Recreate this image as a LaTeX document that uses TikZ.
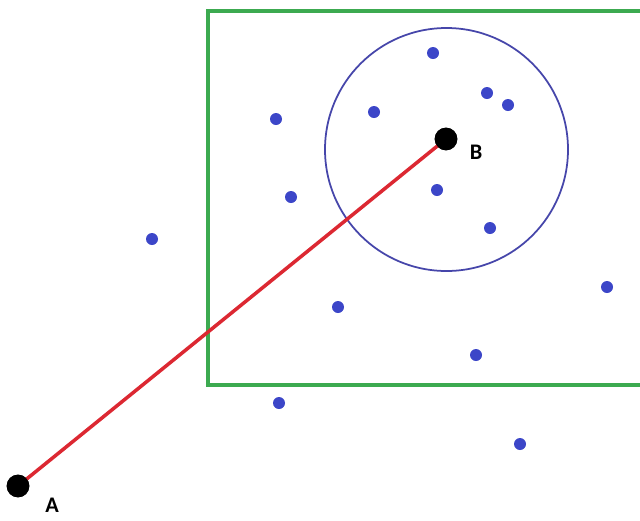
\documentclass[tikz,border=0pt]{standalone}
\usepackage{fontspec}
\setmainfont{Carlito}
\usepackage{tikz}

\begin{document}
\begin{tikzpicture}[x=0.03cm, y=-0.03cm]
    \useasboundingbox (0,0) rectangle (640,520);

    \definecolor{boxgreen}{RGB}{60,170,80}
    \definecolor{dotblue}{RGB}{60,70,200}
    \definecolor{ringblue}{RGB}{70,70,170}
    \definecolor{linered}{RGB}{220,40,50}

    
    \draw[boxgreen, line width=3.2pt] (660, 11) -- (208, 11) -- (208, 385) -- (660, 385);

    
    \draw[ringblue, line width=1.5pt] (446.5, 149.5) circle (121.5*0.03cm);

    
    \node[circle, fill=black, inner sep=0pt, minimum size=0.68cm] (A) at (18, 486) {};
    \node[circle, fill=black, inner sep=0pt, minimum size=0.68cm] (B) at (446, 139) {};
    \draw[linered, line width=3pt] (A.center) -- (B.center);
    \fill[black] (A) circle (0.34cm);
    \fill[black] (B) circle (0.34cm);
    \node[inner sep=0pt, font=\bfseries\fontsize{19}{22}\selectfont] (labA) at (52, 505) {A};
    \node[inner sep=0pt, font=\bfseries\fontsize{19}{22}\selectfont] (labB) at (476, 152) {B};

    
    \foreach \a/\b in {
        433/53, 487/93, 508/105, 374/112, 276/119,
        437/190, 291/197, 490/228, 152/239, 607/287,
        338/307, 476/355, 279/403, 520/444
    } {
        \fill[dotblue] (\a, \b) circle (0.18cm);
    }

\end{tikzpicture}
\end{document}
